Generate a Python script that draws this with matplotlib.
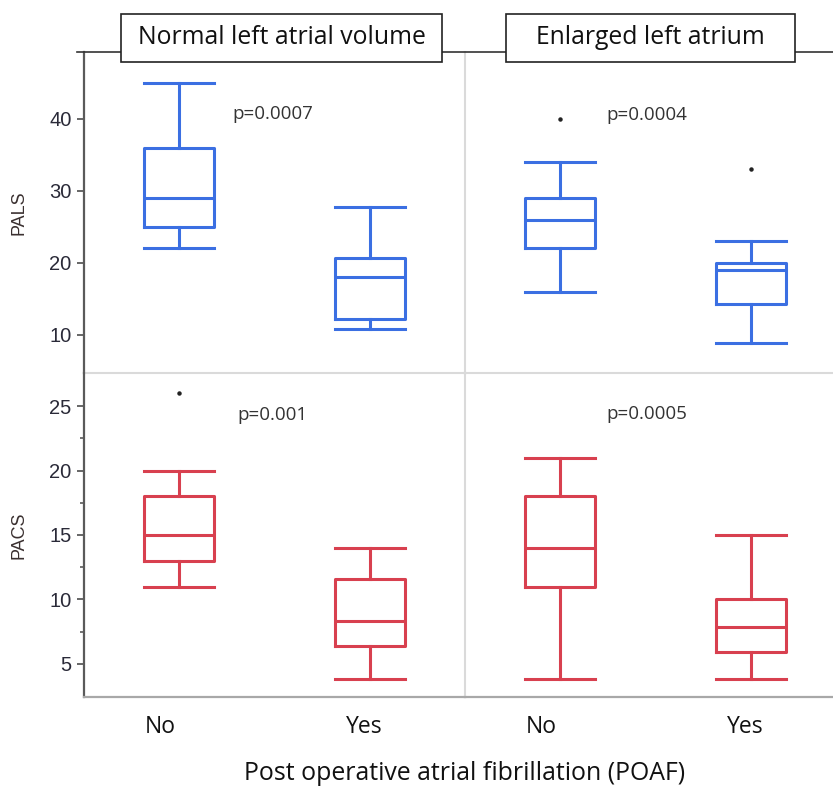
import matplotlib
matplotlib.use("Agg")
import matplotlib.pyplot as plt
from matplotlib.patches import Rectangle
from matplotlib.lines import Line2D
from matplotlib.transforms import ScaledTranslation

# box statistics per panel: [No, Yes]
groups = ["No", "Yes"]

pals_normal_lo = [22, 10.8]
pals_normal_q1 = [25, 12.2]
pals_normal_med = [29, 18]
pals_normal_q3 = [36, 20.7]
pals_normal_hi = [45, 27.8]
pals_normal_out = [[], []]

pals_enl_lo = [16, 8.8]
pals_enl_q1 = [22, 14.3]
pals_enl_med = [26, 19]
pals_enl_q3 = [29, 20]
pals_enl_hi = [34, 23]
pals_enl_out = [[40], [33]]

pacs_normal_lo = [11, 3.8]
pacs_normal_q1 = [13, 6.4]
pacs_normal_med = [15, 8.3]
pacs_normal_q3 = [18, 11.6]
pacs_normal_hi = [20, 14]
pacs_normal_out = [[26], []]

pacs_enl_lo = [3.8, 3.8]
pacs_enl_q1 = [11, 5.9]
pacs_enl_med = [14, 7.9]
pacs_enl_q3 = [18, 10]
pacs_enl_hi = [21, 15]
pacs_enl_out = [[], []]

p_values = ["p=0.0007", "p=0.0004", "p=0.001", "p=0.0005"]
p_pos = [(0.277, 40.7), (0.243, 40.55), (0.305, 24.3), (0.243, 24.35)]

panel_titles = ["Normal left atrial volume", "Enlarged left atrium"]
row_labels = ["PALS", "PACS"]
xlabel = "Post operative atrial fibrillation (POAF)"

blue = "#3b6fe2"
red = "#d8404f"
W, H = 833, 787


def stats(lo, q1, med, q3, hi, out):
    return [dict(whislo=lo[i], q1=q1[i], med=med[i], q3=q3[i], whishi=hi[i],
                 fliers=out[i], label=groups[i]) for i in range(2)]


def px(x, y):
    # pixel (from top-left) to figure fraction
    return x / W, 1 - y / H


fig = plt.figure(figsize=(W / 100, H / 100), dpi=100)
fig.patch.set_facecolor("white")

pw = 381
cols = [84, 465]
rows = [(52, 373), (373, 697)]

panels = [
    (0, 0, stats(pals_normal_lo, pals_normal_q1, pals_normal_med, pals_normal_q3, pals_normal_hi, pals_normal_out), blue),
    (0, 1, stats(pals_enl_lo, pals_enl_q1, pals_enl_med, pals_enl_q3, pals_enl_hi, pals_enl_out), blue),
    (1, 0, stats(pacs_normal_lo, pacs_normal_q1, pacs_normal_med, pacs_normal_q3, pacs_normal_hi, pacs_normal_out), red),
    (1, 1, stats(pacs_enl_lo, pacs_enl_q1, pacs_enl_med, pacs_enl_q3, pacs_enl_hi, pacs_enl_out), red),
]

for k, (r, c, st, col) in enumerate(panels):
    top, bot = rows[r]
    x0, y0 = px(cols[c], bot)
    ax = fig.add_axes([x0, y0, pw / W, (bot - top) / H])
    lw = 2.2
    ax.bxp(st, positions=[0, 1], widths=0.367, capwidths=0.367,
           boxprops=dict(color=col, linewidth=lw),
           medianprops=dict(color=col, linewidth=lw),
           whiskerprops=dict(color=col, linewidth=lw),
           capprops=dict(color=col, linewidth=lw),
           flierprops=dict(marker="o", markersize=2.2, markerfacecolor="#222222",
                           markeredgecolor="#222222"))
    ax.set_xlim(-0.5, 1.5)
    if r == 0:
        ax.set_ylim(4.7, 49.3)
        ax.set_yticks([10, 20, 30, 40])
    else:
        ax.set_ylim(2.44, 27.56)
        ax.set_yticks([5, 10, 15, 20, 25])
        ax.set_yticks([7.5, 12.5, 17.5, 22.5], minor=True)

    for s in ax.spines.values():
        s.set_visible(False)

    if c == 0:
        ax.spines["left"].set_visible(True)
        ax.spines["left"].set_color("#5a5a5a")
        ax.spines["left"].set_linewidth(1.6)
        ax.tick_params(axis="y", which="major", direction="out", length=5, width=1.3,
                       color="#5a5a5a", labelsize=14.5, labelcolor="#2a2a38", pad=4)
        ax.tick_params(axis="y", which="minor", direction="out", length=3, width=1.2,
                       color="#5a5a5a")
        for t in ax.get_yticklabels():
            t.set_family("Liberation Sans")
        ax.set_ylabel(row_labels[r], fontsize=13, family="Liberation Sans", color="#3a3030")
        ax.yaxis.set_label_coords(-0.147, 0.5)
    else:
        ax.spines["left"].set_visible(True)
        ax.spines["left"].set_color("#dadada")
        ax.spines["left"].set_linewidth(1.5)
        ax.tick_params(axis="y", which="both", left=False, labelleft=False)

    if r == 0:
        ax.spines["bottom"].set_visible(True)
        ax.spines["bottom"].set_color("#dadada")
        ax.spines["bottom"].set_linewidth(1.5)
        ax.tick_params(axis="x", bottom=False, labelbottom=False)
    else:
        ax.spines["bottom"].set_visible(True)
        ax.spines["bottom"].set_color("#a8a8a8")
        ax.spines["bottom"].set_linewidth(1.6)
        ax.set_xticks([0, 1])
        ax.set_xticklabels(groups)
        ax.tick_params(axis="x", length=0, pad=13, labelsize=16.5, labelcolor="#111111")
        for t, dx in zip(ax.get_xticklabels(), [-19, -5]):
            t.set_family("Open Sans")
            t.set_transform(t.get_transform() + ScaledTranslation(dx / 100, 0, fig.dpi_scale_trans))

    ax.text(p_pos[k][0], p_pos[k][1], p_values[k], fontsize=13.5, family="Open Sans",
            color="#333333", ha="left", va="center")
    ax.patch.set_alpha(0)

# frame line along the top with the panel title boxes sitting on it
fig.add_artist(Line2D([77 / W, 1], [1 - 52 / H, 1 - 52 / H], color="#333333",
                      linewidth=1.2, zorder=3))
boxes = [(121, 442), (506, 795)]
for (bx0, bx1), title in zip(boxes, panel_titles):
    fig.add_artist(Rectangle(px(bx0, 62), (bx1 - bx0) / W, 48 / H, facecolor="white",
                             edgecolor="#222222", linewidth=1.2, zorder=4))
    fig.text((bx0 + bx1) / 2 / W, 1 - 38 / H, title, fontsize=17.8, family="Open Sans",
             color="#111111", ha="center", va="center", zorder=5)

fig.text(465 / W, 1 - 773 / H, xlabel, fontsize=17.9, family="Open Sans",
         color="#111111", ha="center", va="center")

fig.savefig("out.png", dpi=100)
